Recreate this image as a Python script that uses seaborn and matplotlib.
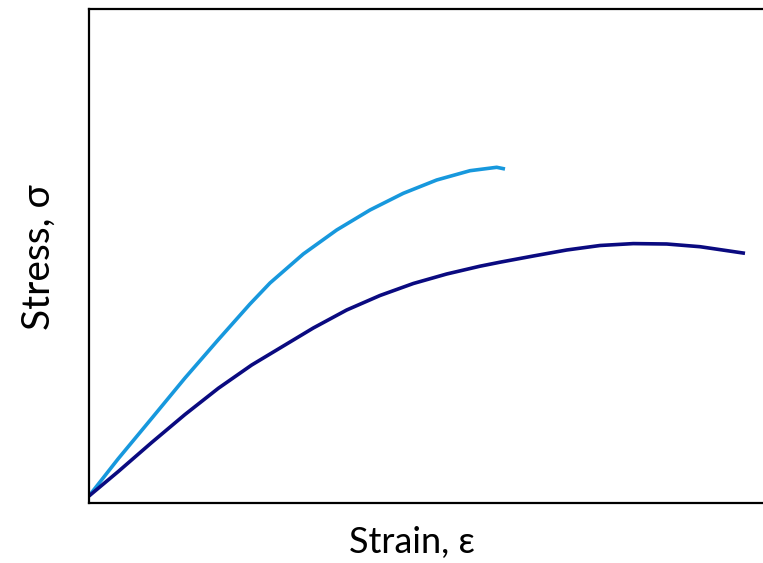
import numpy as np
import pandas as pd
import matplotlib
matplotlib.use("Agg")
import matplotlib.pyplot as plt
import seaborn as sns

# curve values (arbitrary units)
strain_a = [0, 29, 63, 96, 129, 161, 181, 214.3, 247.7, 281, 314.3, 347.7, 381, 407.7, 416]
stress_a = [0, 37, 78, 118, 156, 192, 213, 242, 266, 286, 302.7, 316, 325.3, 328.7, 327]

strain_b = [0, 29.3, 62.7, 96, 129.3, 162.7, 196, 224.3, 257.7, 291, 324.3, 357.7, 391,
            411, 444.3, 477.7, 511, 544.3, 577.7, 611, 656]
stress_b = [0, 24.5, 53.5, 81.5, 107.7, 131, 151, 168, 186, 200.5, 212.5, 222, 229.8,
            233.8, 240, 246, 250.5, 252.4, 252, 249.3, 242.7]

df = pd.concat([
    pd.DataFrame({"strain": strain_a, "stress": stress_a, "curve": "a"}),
    pd.DataFrame({"strain": strain_b, "stress": stress_b, "curve": "b"}),
])

sns.set_style("white")
plt.rcParams["font.family"] = ["Lato", "DejaVu Sans"]
plt.rcParams["text.color"] = "black"
plt.rcParams["axes.labelcolor"] = "black"

fig = plt.figure(figsize=(7.63, 5.63), dpi=100)
ax = fig.add_axes([89 / 763, 60 / 563, 1 - 89 / 763, 494 / 563])

sns.lineplot(data=df, x="strain", y="stress", hue="curve",
             palette={"a": "#1798dd", "b": "#0a0a80"},
             linewidth=2.6, legend=False, sort=False, ax=ax)
for ln in ax.lines:
    ln.set_solid_capstyle("butt")
    ln.set_solid_joinstyle("round")

ax.set_xlim(0, 674)
ax.set_ylim(-7, 487)
ax.set_xticks([])
ax.set_yticks([])
for side in ["left", "bottom", "top"]:
    ax.spines[side].set_color("black")
    ax.spines[side].set_linewidth(1.6)
ax.spines["right"].set_visible(False)

ax.set_xlabel("Strain, ε", fontsize=26, va="baseline")
ax.set_ylabel("Stress, σ", fontsize=28, va="baseline")
ax.xaxis.set_label_coords((411.5 - 89) / 674, -(553 - 503) / 494)
ax.yaxis.set_label_coords(-(89 - 50) / 674, (503 - 257.5) / 494)

fig.savefig("out.png", dpi=100)
